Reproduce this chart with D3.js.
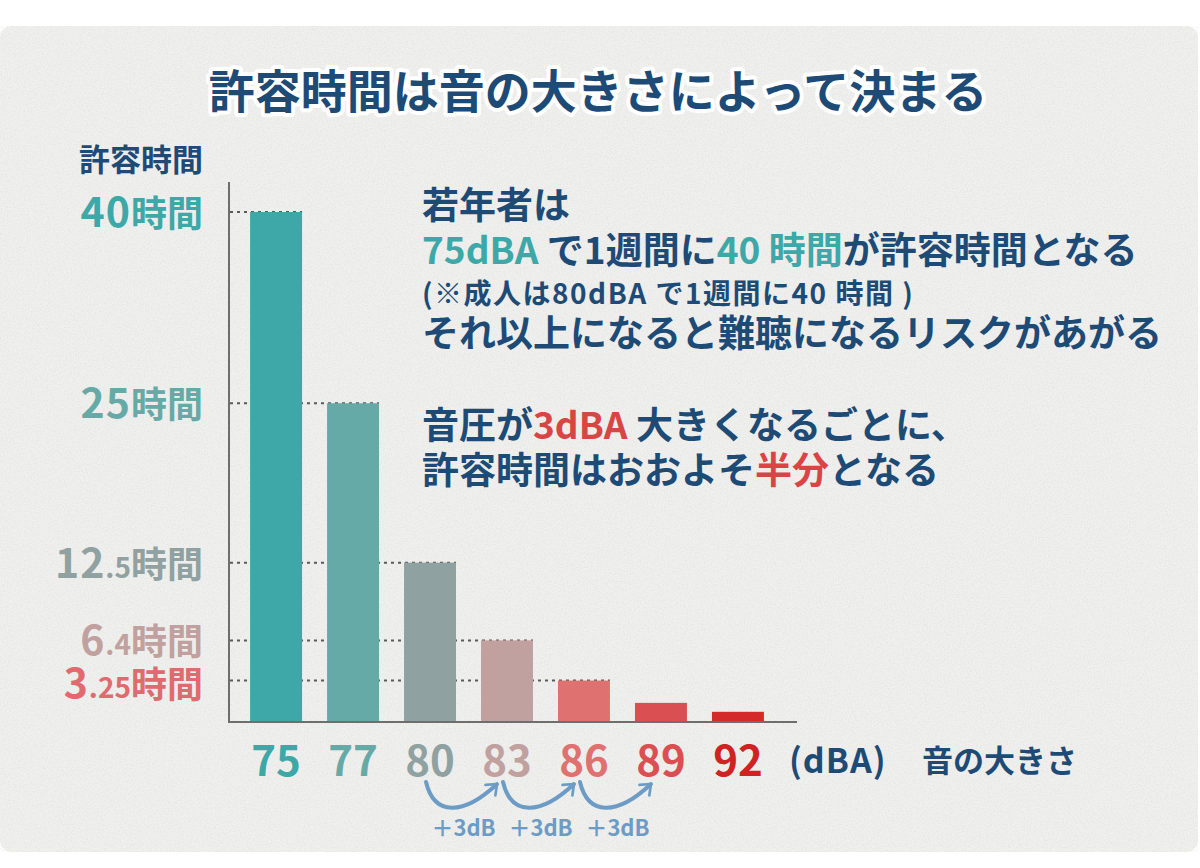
<!DOCTYPE html>
<html lang="ja">
<head>
<meta charset="utf-8">
<script src="https://cdn.jsdelivr.net/npm/d3@7"></script>
<style>
  html, body { margin: 0; padding: 0; background: #ffffff; }
  svg { display: block; font-family: "Noto Sans CJK JP", "Noto Sans", sans-serif; font-weight: 700; }
</style>
</head>
<body>
<div id="chart"></div>
<script>
// Chart data
const levels = ["75", "77", "80", "83", "86", "89", "92"];
const hours = [40, 25, 12.5, 6.4, 3.25, 1.5, 0.8];
const barColors = ["#3ea7a7", "#66aaa8", "#8fa1a1", "#c1a0a0", "#df7171", "#d94f52", "#d42a2a"];
const levelColors = ["#3ea7a7", "#66aaa8", "#8fa1a1", "#c1a0a0", "#df7171", "#d94f52", "#cf2222"];

// Y tick labels (integer part, small decimal part, unit)
const tickHours = [40, 25, 12.5, 6.4, 3.25];
const tickInts = ["40", "25", "12", "6", "3"];
const tickDecimals = ["", "", ".5", ".4", ".25"];
const tickColors = ["#3ea7a7", "#66aaa8", "#8fa1a1", "#c1a0a0", "#df6a70"];

// "+3dB" steps between levels
const stepFrom = ["80", "83", "86"];
const stepTo = ["83", "86", "89"];
const stepLabel = "＋3dB";

const NAVY = "#1e4b76";
const TEAL = "#3ea7a7";
const RED = "#d94444";
const ARROW = "#6c9cc6";

const width = 1200;
const height = 868;

const svg = d3
  .select("#chart")
  .append("svg")
  .attr("width", width)
  .attr("height", height);

// Paper texture
const defs = svg.append("defs");
const noise = defs.append("filter").attr("id", "paper").attr("x", 0).attr("y", 0).attr("width", "100%").attr("height", "100%");
noise.append("feTurbulence").attr("type", "fractalNoise").attr("baseFrequency", 0.7).attr("numOctaves", 2).attr("seed", 3);
noise.append("feColorMatrix").attr("type", "matrix")
  .attr("values", "0 0 0 0 0.55  0 0 0 0 0.55  0 0 0 0 0.55  0 0 0 -1.6 1.0");

const arrowHead = defs.append("marker")
  .attr("id", "arrow-head")
  .attr("viewBox", "0 0 10 10")
  .attr("refX", 6)
  .attr("refY", 5)
  .attr("markerWidth", 4.5)
  .attr("markerHeight", 4.5)
  .attr("markerUnits", "strokeWidth")
  .attr("orient", "auto");
arrowHead.append("path")
  .attr("d", "M1,1 L6,5 L1,9")
  .attr("fill", "none")
  .attr("stroke", ARROW)
  .attr("stroke-width", 1.5)
  .attr("stroke-linecap", "round")
  .attr("stroke-linejoin", "round");

// Panel
svg.append("rect")
  .attr("x", 0).attr("y", 26)
  .attr("width", 1198).attr("height", 826)
  .attr("rx", 12)
  .attr("fill", "#f0f0ee");
svg.append("rect")
  .attr("x", 0).attr("y", 26)
  .attr("width", 1198).attr("height", 826)
  .attr("rx", 12)
  .attr("filter", "url(#paper)")
  .attr("opacity", 0.3);

// Title
svg.append("text")
  .attr("x", 598)
  .attr("y", 108)
  .attr("text-anchor", "middle")
  .attr("font-size", 46)
  .attr("fill", NAVY)
  .attr("stroke", "#ffffff")
  .attr("stroke-width", 8)
  .attr("stroke-linejoin", "round")
  .attr("paint-order", "stroke")
  .text("許容時間は音の大きさによって決まる");

// Scales
const baseY = 722;
const xScale = d3.scaleBand()
  .domain(levels)
  .range([227, 787])
  .paddingInner(0.325)
  .paddingOuter(0.3);

const yScale = d3.scaleLinear()
  .domain([0, 40])
  .range([baseY, 212]);

const data = levels.map((level, i) => ({ level, hours: hours[i], color: barColors[i] }));

// Dotted guide lines (behind bars)
svg.selectAll(".guide")
  .data(tickHours)
  .enter()
  .append("line")
  .attr("class", "guide")
  .attr("x1", 230)
  .attr("x2", (d, i) => xScale(levels[i]) + xScale.bandwidth())
  .attr("y1", (d) => yScale(d))
  .attr("y2", (d) => yScale(d))
  .attr("stroke", "#5a5a5a")
  .attr("stroke-width", 2)
  .attr("stroke-dasharray", "3,4");

// Bars
svg.selectAll(".bar")
  .data(data)
  .enter()
  .append("rect")
  .attr("class", "bar")
  .attr("x", (d) => xScale(d.level))
  .attr("y", (d) => yScale(d.hours))
  .attr("width", xScale.bandwidth())
  .attr("height", (d) => baseY - yScale(d.hours))
  .attr("fill", (d) => d.color);

// Axes lines
svg.append("line")
  .attr("x1", 229).attr("x2", 229)
  .attr("y1", 182).attr("y2", baseY + 1)
  .attr("stroke", "#6e6e6e").attr("stroke-width", 2);
svg.append("line")
  .attr("x1", 228).attr("x2", 797)
  .attr("y1", baseY).attr("y2", baseY)
  .attr("stroke", "#6e6e6e").attr("stroke-width", 2);

// Y axis title
svg.append("text")
  .attr("x", 203)
  .attr("y", 171)
  .attr("text-anchor", "end")
  .attr("font-size", 31)
  .attr("fill", NAVY)
  .text("許容時間");

// Y tick labels
const yLabels = svg.selectAll(".y-label")
  .data(tickHours)
  .enter()
  .append("text")
  .attr("class", "y-label")
  .attr("x", 203)
  .attr("y", (d, i) => yScale(d) + (i === 4 ? 17 : 15))
  .attr("text-anchor", "end")
  .attr("fill", (d, i) => tickColors[i]);
yLabels.append("tspan").attr("font-size", 41).attr("letter-spacing", 1).text((d, i) => tickInts[i]);
yLabels.append("tspan").attr("font-size", 28).text((d, i) => tickDecimals[i]);
yLabels.append("tspan").attr("font-size", 36).text("時間");

// X tick labels
svg.selectAll(".x-label")
  .data(levels)
  .enter()
  .append("text")
  .attr("class", "x-label")
  .attr("x", (d) => xScale(d) + xScale.bandwidth() / 2)
  .attr("y", 776)
  .attr("text-anchor", "middle")
  .attr("font-size", 42)
  .attr("fill", (d, i) => levelColors[i])
  .text((d) => d);

svg.append("text")
  .attr("x", 789)
  .attr("y", 773)
  .attr("font-size", 34)
  .attr("letter-spacing", 1)
  .attr("fill", NAVY)
  .text("(dBA)");

svg.append("text")
  .attr("x", 922)
  .attr("y", 772)
  .attr("font-size", 31)
  .attr("fill", NAVY)
  .text("音の大きさ");

// +3dB arrows
stepFrom.forEach((from, i) => {
  const x1 = xScale(from) + xScale.bandwidth() / 2 - 4;
  const x2 = xScale(stepTo[i]) + xScale.bandwidth() / 2 - 10;
  const y1 = 782;
  svg.append("path")
    .attr("d", `M${x1},${y1} C${x1 + 8},${y1 + 34} ${x2 - 34},${y1 + 34} ${x2},${y1 + 2}`)
    .attr("fill", "none")
    .attr("stroke", ARROW)
    .attr("stroke-width", 4)
    .attr("stroke-linecap", "round")
    .attr("marker-end", "url(#arrow-head)");
  svg.append("text")
    .attr("x", (x1 + x2) / 2 + 2)
    .attr("y", 836)
    .attr("text-anchor", "middle")
    .attr("font-size", 22)
    .attr("fill", ARROW)
    .text(stepLabel);
});

// Annotation text block
const notes = [
  { y: 219, size: 37, parts: [["若年者は", NAVY]] },
  { y: 264, size: 37, parts: [["75dBA ", TEAL], ["で1週間に", NAVY], ["40 時間", TEAL], ["が許容時間となる", NAVY]] },
  { y: 304, size: 28, spacing: 1.5, parts: [["(※成人は80dBA で1週間に40 時間 )", NAVY]] },
  { y: 347, size: 37, parts: [["それ以上になると難聴になるリスクがあがる", NAVY]] },
  { y: 439, size: 37, parts: [["音圧が", NAVY], ["3dBA ", RED], ["大きくなるごとに、", NAVY]] },
  { y: 484, size: 37, parts: [["許容時間はおおよそ", NAVY], ["半分", RED], ["となる", NAVY]] }
];

notes.forEach((line) => {
  const t = svg.append("text")
    .attr("x", 422)
    .attr("y", line.y)
    .attr("font-size", line.size)
    .attr("letter-spacing", line.spacing || 0);
  line.parts.forEach(([str, color]) => {
    t.append("tspan").attr("fill", color).text(str);
  });
});
</script>
</body>
</html>
